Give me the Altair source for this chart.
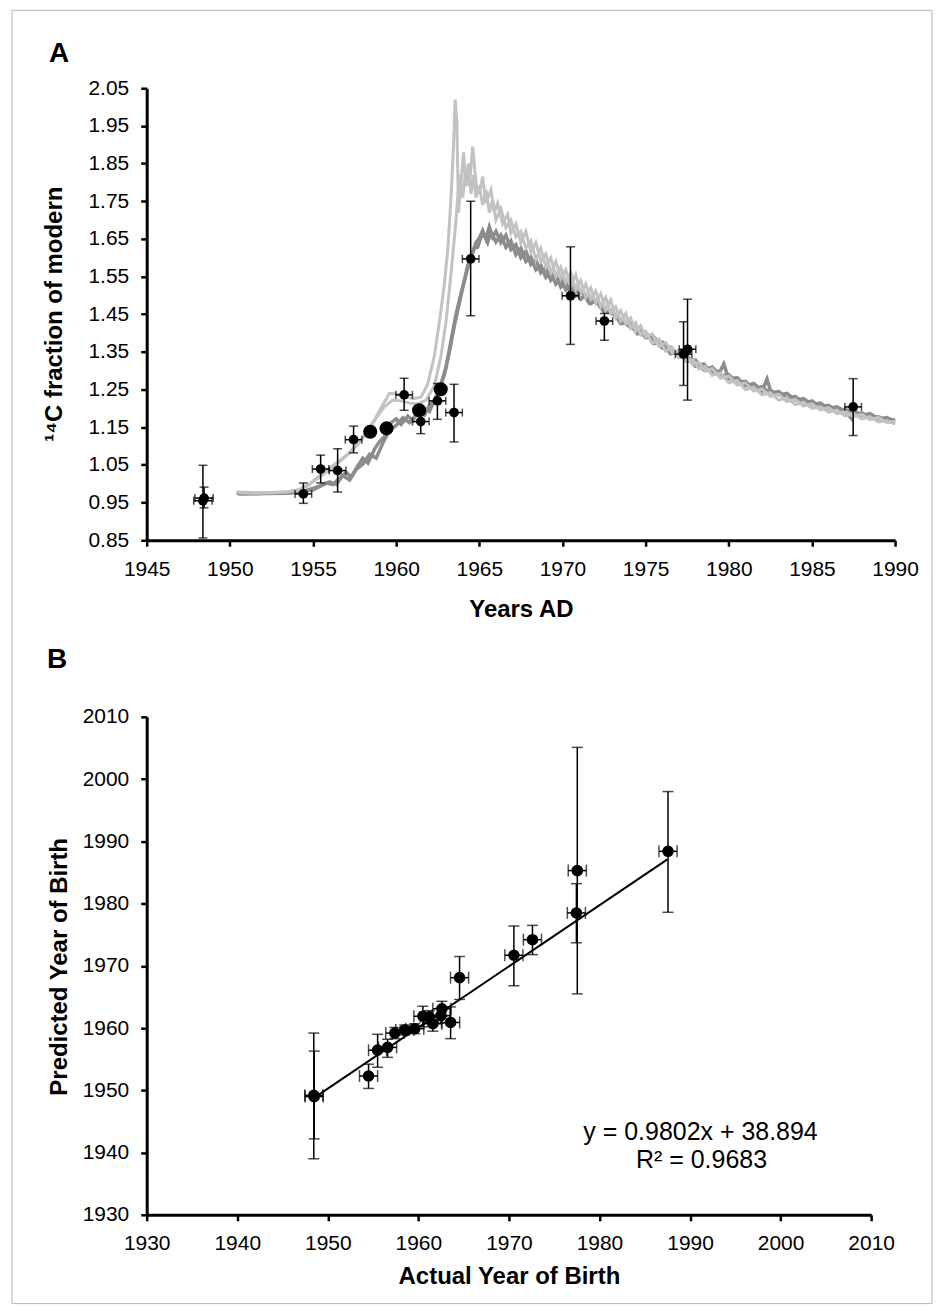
import altair as alt
import pandas as pd

FONT = "Liberation Sans"

# ---------------- Panel A: atmospheric 14C curves (year, fraction modern) ----------------
light1 = [(1950.4, 0.978), (1951.5, 0.977), (1952.5, 0.977), (1953.5, 0.979), (1954.2, 0.984), (1954.7, 0.995),
          (1955.2, 1.012), (1955.7, 1.028), (1956.2, 1.045), (1956.7, 1.062), (1957.2, 1.082), (1957.7, 1.105),
          (1958.2, 1.135), (1958.7, 1.170), (1959.2, 1.210), (1959.6, 1.240), (1960.0, 1.238), (1960.5, 1.232),
          (1961.0, 1.226), (1961.5, 1.230), (1961.9, 1.265), (1962.3, 1.340), (1962.6, 1.430), (1962.9, 1.530),
          (1963.1, 1.620), (1963.3, 1.760), (1963.45, 1.900), (1963.55, 2.020), (1963.65, 1.960), (1963.75, 1.720),
          (1963.9, 1.800), (1964.05, 1.880), (1964.2, 1.790), (1964.35, 1.850), (1964.5, 1.770), (1964.65, 1.820),
          (1964.8, 1.760), (1965.0, 1.790), (1965.2, 1.740), (1965.4, 1.780), (1965.6, 1.720), (1965.8, 1.755),
          (1966.0, 1.700), (1966.3, 1.730), (1966.6, 1.680), (1966.9, 1.700), (1967.2, 1.655), (1967.5, 1.670),
          (1967.8, 1.625), (1968.1, 1.645), (1968.4, 1.595), (1968.7, 1.625), (1969.0, 1.575), (1969.3, 1.600),
          (1969.6, 1.550), (1969.9, 1.575), (1970.2, 1.535), (1970.5, 1.560), (1970.8, 1.515), (1971.1, 1.540),
          (1971.4, 1.495), (1971.7, 1.520), (1972.0, 1.480), (1972.3, 1.505), (1972.6, 1.462), (1972.9, 1.488),
          (1973.2, 1.440), (1973.5, 1.460), (1973.8, 1.425), (1974.1, 1.440), (1974.4, 1.405), (1974.7, 1.420),
          (1975.0, 1.390), (1975.4, 1.398), (1975.8, 1.365), (1976.2, 1.375), (1976.6, 1.348), (1977.0, 1.355),
          (1977.4, 1.325), (1977.8, 1.332), (1978.2, 1.305), (1978.6, 1.312), (1979.0, 1.288), (1979.5, 1.294),
          (1980.0, 1.268), (1980.5, 1.274), (1981.0, 1.250), (1981.5, 1.256), (1982.0, 1.236), (1982.5, 1.242),
          (1983.0, 1.222), (1983.5, 1.228), (1984.0, 1.210), (1984.5, 1.216), (1985.0, 1.200), (1985.5, 1.205),
          (1986.0, 1.190), (1986.5, 1.195), (1987.0, 1.180), (1987.5, 1.186), (1988.0, 1.172), (1988.5, 1.178),
          (1989.0, 1.164), (1989.5, 1.168), (1990.0, 1.158)]

light2 = [(1950.5, 0.976), (1951.5, 0.975), (1952.5, 0.976), (1953.5, 0.978), (1954.2, 0.985), (1954.8, 1.000),
          (1955.3, 1.018), (1955.8, 1.035), (1956.3, 1.052), (1956.8, 1.068), (1957.3, 1.088), (1957.8, 1.110),
          (1958.3, 1.140), (1958.8, 1.175), (1959.3, 1.205), (1959.8, 1.222), (1960.3, 1.220), (1960.8, 1.214),
          (1961.3, 1.212), (1961.8, 1.222), (1962.3, 1.260), (1962.7, 1.340), (1963.0, 1.430), (1963.3, 1.560),
          (1963.6, 1.700), (1963.8, 1.820), (1964.0, 1.760), (1964.2, 1.840), (1964.4, 1.790), (1964.6, 1.895),
          (1964.8, 1.800), (1965.0, 1.770), (1965.2, 1.815), (1965.4, 1.745), (1965.7, 1.780), (1965.9, 1.720),
          (1966.1, 1.745), (1966.4, 1.690), (1966.7, 1.715), (1966.9, 1.665), (1967.2, 1.690), (1967.5, 1.640),
          (1967.8, 1.670), (1968.1, 1.615), (1968.4, 1.640), (1968.7, 1.590), (1969.0, 1.610), (1969.3, 1.560),
          (1969.6, 1.590), (1969.9, 1.545), (1970.2, 1.568), (1970.5, 1.525), (1970.8, 1.555), (1971.1, 1.505),
          (1971.4, 1.530), (1971.7, 1.490), (1972.0, 1.512), (1972.3, 1.470), (1972.6, 1.495), (1972.9, 1.452),
          (1973.2, 1.470), (1973.5, 1.432), (1973.8, 1.452), (1974.1, 1.412), (1974.4, 1.428), (1974.7, 1.395),
          (1975.0, 1.405), (1975.4, 1.372), (1975.8, 1.384), (1976.2, 1.352), (1976.6, 1.362), (1977.0, 1.335),
          (1977.4, 1.344), (1977.8, 1.318), (1978.2, 1.322), (1978.6, 1.298), (1979.0, 1.306), (1979.5, 1.280),
          (1980.0, 1.286), (1980.5, 1.262), (1981.0, 1.268), (1981.5, 1.246), (1982.0, 1.252), (1982.5, 1.232),
          (1983.0, 1.238), (1983.5, 1.218), (1984.0, 1.224), (1984.5, 1.206), (1985.0, 1.212), (1985.5, 1.196),
          (1986.0, 1.202), (1986.5, 1.186), (1987.0, 1.192), (1987.5, 1.178), (1988.0, 1.184), (1988.5, 1.170),
          (1989.0, 1.176), (1989.5, 1.162), (1990.0, 1.166)]

dark1 = [(1950.4, 0.975), (1951.5, 0.974), (1952.5, 0.975), (1953.5, 0.976), (1954.3, 0.978), (1954.8, 0.985),
         (1955.3, 0.992), (1955.8, 1.002), (1956.2, 0.998), (1956.6, 1.015), (1957.0, 1.030), (1957.3, 1.018),
         (1957.7, 1.048), (1958.0, 1.068), (1958.3, 1.055), (1958.7, 1.092), (1959.0, 1.112), (1959.3, 1.125),
         (1959.7, 1.162), (1960.0, 1.172), (1960.3, 1.158), (1960.7, 1.180), (1961.0, 1.168), (1961.3, 1.192),
         (1961.7, 1.182), (1962.0, 1.208), (1962.3, 1.220), (1962.6, 1.252), (1962.9, 1.290), (1963.2, 1.350),
         (1963.5, 1.420), (1963.8, 1.480), (1964.0, 1.520), (1964.2, 1.555), (1964.4, 1.590), (1964.6, 1.615),
         (1964.8, 1.640), (1965.0, 1.652), (1965.2, 1.672), (1965.4, 1.650), (1965.6, 1.682), (1965.8, 1.655),
         (1966.0, 1.670), (1966.3, 1.640), (1966.6, 1.660), (1966.9, 1.622), (1967.2, 1.635), (1967.5, 1.600),
         (1967.8, 1.618), (1968.1, 1.582), (1968.4, 1.595), (1968.7, 1.560), (1969.0, 1.572), (1969.3, 1.540),
         (1969.6, 1.555), (1969.9, 1.522), (1970.2, 1.535), (1970.5, 1.505), (1970.8, 1.522), (1971.1, 1.490),
         (1971.4, 1.500), (1971.7, 1.478), (1972.0, 1.486), (1972.5, 1.455), (1973.0, 1.460), (1973.5, 1.425),
         (1974.0, 1.428), (1974.5, 1.398), (1975.0, 1.402), (1975.5, 1.372), (1976.0, 1.376), (1976.5, 1.345),
         (1977.0, 1.350), (1977.5, 1.325), (1978.0, 1.328), (1978.5, 1.302), (1979.0, 1.310), (1979.5, 1.286),
         (1980.0, 1.290), (1980.5, 1.268), (1981.0, 1.272), (1981.5, 1.252), (1982.0, 1.258), (1982.5, 1.240),
         (1983.0, 1.245), (1983.5, 1.226), (1984.0, 1.232), (1984.5, 1.214), (1985.0, 1.220), (1985.5, 1.204),
         (1986.0, 1.208), (1986.5, 1.194), (1987.0, 1.198), (1987.5, 1.184), (1988.0, 1.188), (1988.5, 1.175),
         (1989.0, 1.178), (1989.5, 1.167), (1990.0, 1.170)]

dark2 = [(1950.5, 0.973), (1952.0, 0.974), (1953.5, 0.975), (1954.5, 0.980), (1955.0, 0.984), (1955.5, 0.995),
         (1956.0, 1.005), (1956.4, 0.998), (1956.8, 1.022), (1957.2, 1.010), (1957.6, 1.038), (1958.0, 1.052),
         (1958.4, 1.078), (1958.8, 1.068), (1959.2, 1.108), (1959.6, 1.142), (1960.0, 1.155), (1960.4, 1.175),
         (1960.8, 1.162), (1961.2, 1.182), (1961.6, 1.202), (1962.0, 1.192), (1962.4, 1.232), (1962.7, 1.265),
         (1963.0, 1.310), (1963.3, 1.380), (1963.6, 1.450), (1963.9, 1.505), (1964.1, 1.540), (1964.3, 1.580),
         (1964.5, 1.600), (1964.7, 1.625), (1964.9, 1.628), (1965.1, 1.655), (1965.3, 1.660), (1965.5, 1.640),
         (1965.7, 1.668), (1966.0, 1.642), (1966.3, 1.660), (1966.6, 1.628), (1966.9, 1.645), (1967.2, 1.608),
         (1967.5, 1.625), (1967.8, 1.590), (1968.1, 1.602), (1968.4, 1.568), (1968.7, 1.580), (1969.0, 1.548),
         (1969.3, 1.562), (1969.6, 1.530), (1969.9, 1.545), (1970.2, 1.515), (1970.5, 1.525), (1970.8, 1.498),
         (1971.2, 1.508), (1971.6, 1.480), (1972.0, 1.488), (1972.5, 1.460), (1973.0, 1.452), (1973.5, 1.436),
         (1974.0, 1.418), (1974.5, 1.414), (1975.0, 1.388), (1975.5, 1.390), (1976.0, 1.360), (1976.5, 1.362),
         (1977.0, 1.336), (1977.5, 1.340), (1978.0, 1.312), (1978.5, 1.318), (1979.0, 1.294), (1979.5, 1.300),
         (1979.7, 1.318), (1980.0, 1.278), (1980.5, 1.282), (1981.0, 1.260), (1981.5, 1.266), (1982.0, 1.246),
         (1982.3, 1.278), (1982.5, 1.248), (1983.0, 1.236), (1983.5, 1.240), (1984.0, 1.222), (1984.5, 1.226),
         (1985.0, 1.210), (1985.5, 1.214), (1986.0, 1.200), (1986.5, 1.204), (1987.0, 1.192), (1987.4, 1.172),
         (1987.5, 1.194), (1988.0, 1.182), (1988.5, 1.186), (1989.0, 1.172), (1989.5, 1.176), (1990.0, 1.166)]

# ---------------- Panel A: measured samples ----------------
a_year = [1948.38, 1948.45, 1954.42, 1955.46, 1956.48, 1957.44, 1960.48, 1961.48, 1962.48, 1963.48,
          1964.48, 1970.48, 1972.52, 1977.28, 1977.52, 1987.48]
a_val = [0.955, 0.962, 0.973, 1.039, 1.035, 1.117, 1.236, 1.165, 1.220, 1.189,
         1.597, 1.499, 1.432, 1.344, 1.357, 1.204]
a_lo = [0.856, 0.936, 0.948, 1.002, 0.978, 1.082, 1.195, 1.133, 1.171, 1.111,
        1.446, 1.370, 1.381, 1.261, 1.222, 1.128]
a_hi = [1.049, 0.991, 1.002, 1.076, 1.093, 1.153, 1.280, 1.185, 1.266, 1.264,
        1.750, 1.629, 1.452, 1.430, 1.490, 1.279]
a_xerr = [0.55, 0.55, 0.5, 0.5, 0.5, 0.5, 0.5, 0.5, 0.5, 0.5,
          0.5, 0.5, 0.5, 0.5, 0.5, 0.5]
# samples drawn with larger markers, no error bars
a2_year = [1958.44, 1959.42, 1961.38, 1962.68]
a2_val = [1.138, 1.147, 1.195, 1.251]

# ---------------- Panel B: predicted vs actual ----------------
b_actual = [1948.45, 1948.5, 1954.5, 1955.5, 1956.6, 1957.4, 1958.5, 1959.6, 1960.5, 1961.2,
            1961.6, 1962.5, 1962.6, 1963.56, 1964.55, 1970.55, 1972.6, 1977.45, 1977.55, 1987.57]
b_pred = [1949.2, 1949.0, 1952.3, 1956.45, 1956.9, 1959.2, 1959.7, 1959.9, 1961.9, 1961.8,
          1960.7, 1962.0, 1963.1, 1960.9, 1968.1, 1971.7, 1974.2, 1978.5, 1985.3, 1988.4]
b_lo = [1939.0, 1942.2, 1950.3, 1953.7, 1955.3, 1958.3, 1958.9, 1959.1, 1960.2, 1960.8,
        1959.5, 1960.8, 1961.9, 1958.3, 1964.6, 1966.8, 1971.8, 1973.7, 1965.5, 1978.6]
b_hi = [1959.2, 1956.3, 1954.2, 1959.0, 1958.2, 1960.1, 1960.5, 1960.7, 1963.5, 1962.8,
        1961.9, 1963.2, 1964.3, 1963.4, 1971.5, 1976.4, 1976.5, 1983.2, 2005.1, 1998.0]
b_xerr = [1.0] * 20
fit_x = [1948.4, 1987.5]
fit_y = [1948.7, 1987.1]
equation_text = "y = 0.9802x + 38.894"
r2_text = "R\u00b2 = 0.9683"

a_xticks = [1945, 1950, 1955, 1960, 1965, 1970, 1975, 1980, 1985, 1990]
a_yticks = [0.85, 0.95, 1.05, 1.15, 1.25, 1.35, 1.45, 1.55, 1.65, 1.75, 1.85, 1.95, 2.05]
b_ticks = [1930, 1940, 1950, 1960, 1970, 1980, 1990, 2000, 2010]


# ---------------- tables ----------------
def series_df(pairs, name):
    return pd.DataFrame({"year": [p[0] for p in pairs], "val": [p[1] for p in pairs], "s": name})


lines_light = pd.concat([series_df(light1, "L1"), series_df(light2, "L2")])
lines_dark = pd.concat([series_df(dark1, "D1"), series_df(dark2, "D2")])
dfA = pd.DataFrame({"year": a_year, "val": a_val, "lo": a_lo, "hi": a_hi, "xerr": a_xerr})
dfA2 = pd.DataFrame({"year": a2_year, "val": a2_val})
dfB = pd.DataFrame({"x": b_actual, "y": b_pred, "lo": b_lo, "hi": b_hi, "xerr": b_xerr})
dfFit = pd.DataFrame({"x": fit_x, "y": fit_y})
one = pd.DataFrame({"d": [0]})

# ---------------- scales / axes ----------------
xsA = alt.Scale(domain=[1945, 1990], nice=False, zero=False)
ysA = alt.Scale(domain=[0.85, 2.05], nice=False, zero=False)
xsB = alt.Scale(domain=[1930, 2010], nice=False, zero=False)
ysB = alt.Scale(domain=[1930, 2010], nice=False, zero=False)

axXA = alt.Axis(values=a_xticks, format="d", title="Years AD", titleY=69, titleBaseline="middle")
axYA = alt.Axis(values=a_yticks, format=".2f", title="\u00b9\u2074C fraction of modern",
                titleX=-92, titleY=226, titleAngle=-90, titleBaseline="middle", titleAlign="center")
axXB = alt.Axis(values=b_ticks, format="d", title="Actual Year of Birth", titleY=62, titleBaseline="middle")
axYB = alt.Axis(values=b_ticks, format="d", title="Predicted Year of Birth",
                titleX=-87, titleY=250, titleAngle=-90, titleBaseline="middle", titleAlign="center")


def XA(f):
    return alt.X(f, type="quantitative", scale=xsA, axis=axXA)


def YA(f):
    return alt.Y(f, type="quantitative", scale=ysA, axis=axYA)


def XB(f):
    return alt.X(f, type="quantitative", scale=xsB, axis=axXB)


def YB(f):
    return alt.Y(f, type="quantitative", scale=ysB, axis=axYB)


# ---------------- Panel A ----------------
border = alt.Chart(one).mark_rect(fill="white", fillOpacity=0, stroke="#b4b4b4", strokeWidth=1).encode(
    x=alt.value(-135), x2=alt.value(787), y=alt.value(-78), y2=alt.value(1218))

dark = alt.Chart(lines_dark).mark_line(color="#8c8c8c", strokeWidth=3.5).encode(
    x=XA("year"), y=YA("val"), detail="s:N", order="year:Q")
light = alt.Chart(lines_light).mark_line(color="#c2c2c2", strokeWidth=3).encode(
    x=XA("year"), y=YA("val"), detail="s:N", order="year:Q")

baseA = alt.Chart(dfA).transform_calculate(
    xl="datum.year - datum.xerr", xh="datum.year + datum.xerr")
vbarA = baseA.mark_rule(color="black", strokeWidth=1.5).encode(x=XA("year"), y=YA("lo"), y2="hi:Q")
capLoA = baseA.mark_tick(color="black", orient="horizontal", size=9, thickness=1.5).encode(x=XA("year"), y=YA("lo"))
capHiA = baseA.mark_tick(color="black", orient="horizontal", size=9, thickness=1.5).encode(x=XA("year"), y=YA("hi"))
hbarA = baseA.mark_rule(color="black", strokeWidth=1.5).encode(x=XA("xl:Q"), x2="xh:Q", y=YA("val"))
capLA = baseA.mark_tick(color="black", orient="vertical", size=8, thickness=1.5).encode(x=XA("xl:Q"), y=YA("val"))
capHA = baseA.mark_tick(color="black", orient="vertical", size=8, thickness=1.5).encode(x=XA("xh:Q"), y=YA("val"))
ptsA = alt.Chart(dfA).mark_circle(color="black", opacity=1, size=95).encode(x=XA("year"), y=YA("val"))
ptsA2 = alt.Chart(dfA2).mark_circle(color="black", opacity=1, size=200).encode(x=XA("year"), y=YA("val"))

letterA = alt.Chart(one).mark_text(text="A", font=FONT, fontSize=28, fontWeight="bold", align="left",
                                   baseline="middle", color="black").encode(x=alt.value(-98), y=alt.value(-34))

panelA = alt.layer(border, dark, light, vbarA, capLoA, capHiA, hbarA, capLA, capHA, ptsA, ptsA2, letterA
                   ).properties(width=750, height=453)

# ---------------- Panel B ----------------
fit = alt.Chart(dfFit).mark_line(color="black", strokeWidth=2).encode(x=XB("x"), y=YB("y"))
baseB = alt.Chart(dfB).transform_calculate(xl="datum.x - datum.xerr", xh="datum.x + datum.xerr")
vbarB = baseB.mark_rule(color="black", strokeWidth=1.5).encode(x=XB("x"), y=YB("lo"), y2="hi:Q")
capLoB = baseB.mark_tick(color="black", orient="horizontal", size=11, thickness=1.5).encode(x=XB("x"), y=YB("lo"))
capHiB = baseB.mark_tick(color="black", orient="horizontal", size=11, thickness=1.5).encode(x=XB("x"), y=YB("hi"))
hbarB = baseB.mark_rule(color="black", strokeWidth=1.5).encode(x=XB("xl:Q"), x2="xh:Q", y=YB("y"))
capLB = baseB.mark_tick(color="black", orient="vertical", size=12, thickness=1.5).encode(x=XB("xl:Q"), y=YB("y"))
capHB = baseB.mark_tick(color="black", orient="vertical", size=12, thickness=1.5).encode(x=XB("xh:Q"), y=YB("y"))
ptsB = alt.Chart(dfB).mark_circle(color="black", opacity=1, size=135).encode(x=XB("x"), y=YB("y"))

eq1 = alt.Chart(one).mark_text(text=equation_text, font=FONT, fontSize=25, align="center",
                               baseline="middle", color="black").encode(x=alt.value(555), y=alt.value(416))
eq2 = alt.Chart(one).mark_text(text=r2_text, font=FONT, fontSize=25, align="center",
                               baseline="middle", color="black").encode(x=alt.value(556), y=alt.value(444))
letterB = alt.Chart(one).mark_text(text="B", font=FONT, fontSize=28, fontWeight="bold", align="left",
                                   baseline="middle", color="black").encode(x=alt.value(-100), y=alt.value(-57))

panelB = alt.layer(fit, vbarB, capLoB, capHiB, hbarB, capLB, capHB, ptsB, eq1, eq2, letterB
                   ).properties(width=726, height=499)

chart = alt.vconcat(panelA, panelB, spacing=177, bounds="flush").properties(
    padding={"left": 3, "top": 0, "right": 0, "bottom": 0},
    background="white",
).configure_view(strokeWidth=0).configure_axis(
    domainColor="black", domainWidth=3, tickColor="black", tickWidth=2.5, tickSize=6,
    labelFont=FONT, labelFontSize=21, labelColor="black", labelPadding=12,
    labelFlush=False, labelOverlap=False, labelBound=False,
    titleFont=FONT, titleFontSize=24, titleFontWeight="bold", titleColor="black", grid=False,
)

chart.save("out.html", embed_options={"renderer": "svg", "actions": False})
